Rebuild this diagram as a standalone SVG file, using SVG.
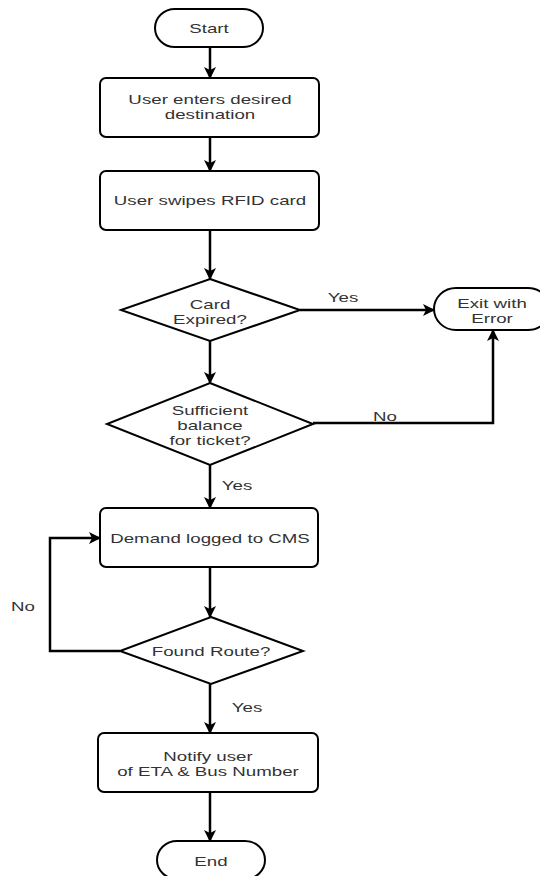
<svg xmlns="http://www.w3.org/2000/svg" width="540" height="876" viewBox="0 0 540 876">
<style>
.s{fill:#fff;stroke:#000;stroke-width:2}
.t{font-family:"Liberation Sans",Arial,sans-serif;font-size:13px;fill:#333;text-anchor:middle}
.c{fill:none;stroke:#000;stroke-width:2.5;marker-end:url(#a)}
</style>
<defs>
<marker id="a" viewBox="0 0 12 12" refX="11" refY="6" markerWidth="12" markerHeight="12" markerUnits="userSpaceOnUse" orient="auto">
<path d="M0,0 L12,6 L0,12 L3,6 z" fill="#000"/>
</marker>
</defs>
<g id="connectors">
<path class="c" d="M210,47 V78"/>
<path class="c" d="M210,137 V171"/>
<path class="c" d="M210,230 V279"/>
<path class="c" d="M300,310 H434"/>
<path class="c" d="M210,341 V383"/>
<path class="c" d="M313,423 H493 V330"/>
<path class="c" d="M210,465 V508"/>
<path class="c" d="M210,567 V617"/>
<path class="c" d="M120,651 H50 V538 H100"/>
<path class="c" d="M210,684 V733"/>
<path class="c" d="M210,792 V841"/>
<text class="t" transform="translate(343,302) scale(1.44,1)">Yes</text>
<text class="t" transform="translate(385,421) scale(1.44,1)">No</text>
<text class="t" transform="translate(237,490) scale(1.44,1)">Yes</text>
<text class="t" transform="translate(23,611) scale(1.44,1)">No</text>
<text class="t" transform="translate(247,712) scale(1.44,1)">Yes</text>
</g>
<g id="start">
<rect class="s" x="155" y="9" width="108" height="38" rx="20" ry="19"/>
<text class="t" transform="translate(209,33) scale(1.44,1)">Start</text>
</g>
<g id="enter-destination">
<rect class="s" x="100" y="78" width="219" height="59" rx="6"/>
<text class="t" transform="translate(210,104) scale(1.44,1)">User enters desired</text>
<text class="t" transform="translate(210,119) scale(1.44,1)">destination</text>
</g>
<g id="swipe-card">
<rect class="s" x="100" y="171" width="219" height="59" rx="6"/>
<text class="t" transform="translate(210,205) scale(1.44,1)">User swipes RFID card</text>
</g>
<g id="card-expired">
<polygon class="s" points="210,279 300,310 210,341 121,310"/>
<text class="t" transform="translate(210,309) scale(1.44,1)">Card</text>
<text class="t" transform="translate(210,324) scale(1.44,1)">Expired?</text>
</g>
<g id="exit-error">
<rect class="s" x="434" y="288" width="116" height="42" rx="22" ry="21"/>
<text class="t" transform="translate(492,308) scale(1.44,1)">Exit with</text>
<text class="t" transform="translate(492,323) scale(1.44,1)">Error</text>
</g>
<g id="sufficient-balance">
<polygon class="s" points="210,383 313,424 210,465 107,424"/>
<text class="t" transform="translate(210,415) scale(1.44,1)">Sufficient</text>
<text class="t" transform="translate(210,430) scale(1.44,1)">balance</text>
<text class="t" transform="translate(210,445) scale(1.44,1)">for ticket?</text>
</g>
<g id="demand-logged">
<rect class="s" x="100" y="508" width="218" height="59" rx="6"/>
<text class="t" transform="translate(210,543) scale(1.44,1)">Demand logged to CMS</text>
</g>
<g id="found-route">
<polygon class="s" points="211,617 303,651 211,684 120,651"/>
<text class="t" transform="translate(211,656) scale(1.44,1)">Found Route?</text>
</g>
<g id="notify-user">
<rect class="s" x="98" y="733" width="220" height="59" rx="6"/>
<text class="t" transform="translate(208,761) scale(1.44,1)">Notify user</text>
<text class="t" transform="translate(208,776) scale(1.44,1)">of ETA &amp; Bus Number</text>
</g>
<g id="end">
<rect class="s" x="157" y="841" width="108" height="38" rx="20" ry="19"/>
<text class="t" transform="translate(211,866) scale(1.44,1)">End</text>
</g>
</svg>
